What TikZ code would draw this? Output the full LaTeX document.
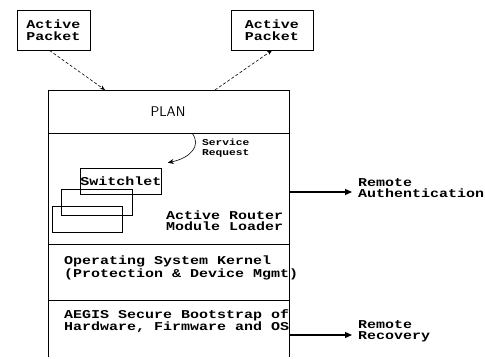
\documentclass[tikz,border=0pt]{standalone}
\usepackage{fontspec}
\setmainfont{Liberation Sans}
\setmonofont{Liberation Mono}[FakeStretch=1.25]
\usetikzlibrary{arrows.meta,positioning}

\begin{document}
\begin{tikzpicture}[x=1pt, y=-1pt,
        >={Triangle[length=7pt,width=6pt]},
        txt/.style={font=\ttfamily\bfseries\fontsize{12}{11}\selectfont, align=left, inner sep=0pt},
        small/.style={font=\ttfamily\bfseries\fontsize{9}{10}\selectfont, align=left, inner sep=0pt},
        pkt/.style={draw, thick, align=center, inner sep=0pt, minimum height=40pt, font=\ttfamily\bfseries\fontsize{12}{12}\selectfont},
        modbox/.style={draw, semithick, inner sep=0pt, minimum height=26pt},
        divider/.style={semithick},
        pktflow/.style={->, densely dashed, semithick, >={Stealth[length=5pt,width=4pt]}},
        remote/.style={->, very thick, shorten >=6pt}
    ]
    \useasboundingbox (0,0) rectangle (485,359);

    % incoming and outgoing packets
    \node[pkt, minimum width=73pt] (pktin) at (53.5,30) {Active\\Packet};
    \node[pkt, minimum width=82pt] (pktout) at (272,30) {Active\\Packet};

    % the node stack
    \draw[thick] (48,357) -- (48,90) -- (289,90) -- (289,357);
    \coordinate (topin) at (105,90);
    \coordinate (topout) at (215,90);
    \coordinate (plansep) at (192,133);
    \draw[divider] (48,133) -- (289,133);
    \draw[divider] (48,244) -- (289,244);
    \draw[divider] (48,300) -- (289,300);

    \node[font=\sffamily\fontsize{14}{14}\selectfont] (plan) at (168,112) {PLAN};

    % loaded modules
    \node[modbox, minimum width=70pt] (mod3) at (87,219.5) {};
    \node[modbox, minimum width=71pt] (mod2) at (96.5,202) {};
    \node[modbox, minimum width=80pt, txt] (switchlet) at (121,181) {Switchlet};

    \node[small, anchor=west] (svcreq) at (202,148) {Service\\Request};
    \node[txt, anchor=west] (loader) at (166,221) {Active Router\\Module Loader};
    \node[txt, anchor=west] (kernel) at (64,268) {Operating System Kernel\\(Protection \& Device Mgmt)};
    \node[txt, anchor=west] (aegis) at (64,321) {AEGIS Secure Bootstrap of\\Hardware, Firmware and OS};

    % remote services
    \node[txt, anchor=west] (remauth) at (358,188) {Remote\\Authentication};
    \node[txt, anchor=west] (remrec) at (358,331) {Remote\\Recovery};
    \coordinate (authout) at (289,192);
    \coordinate (recout) at (289,335);

    \draw[pktflow] ([xshift=-4pt]pktin.south) -- (topin);
    \draw[pktflow] (topout) -- (pktout.south);
    \draw[->, semithick, >={Stealth[length=6pt,width=5pt]}] (plansep)
        .. controls (202,146) and (190,158) .. ([xshift=6pt,yshift=5pt]switchlet.north east);
    \draw[remote] (authout) -- (authout -| remauth.west);
    \draw[remote] (recout) -- (recout -| remrec.west);
\end{tikzpicture}
\end{document}
